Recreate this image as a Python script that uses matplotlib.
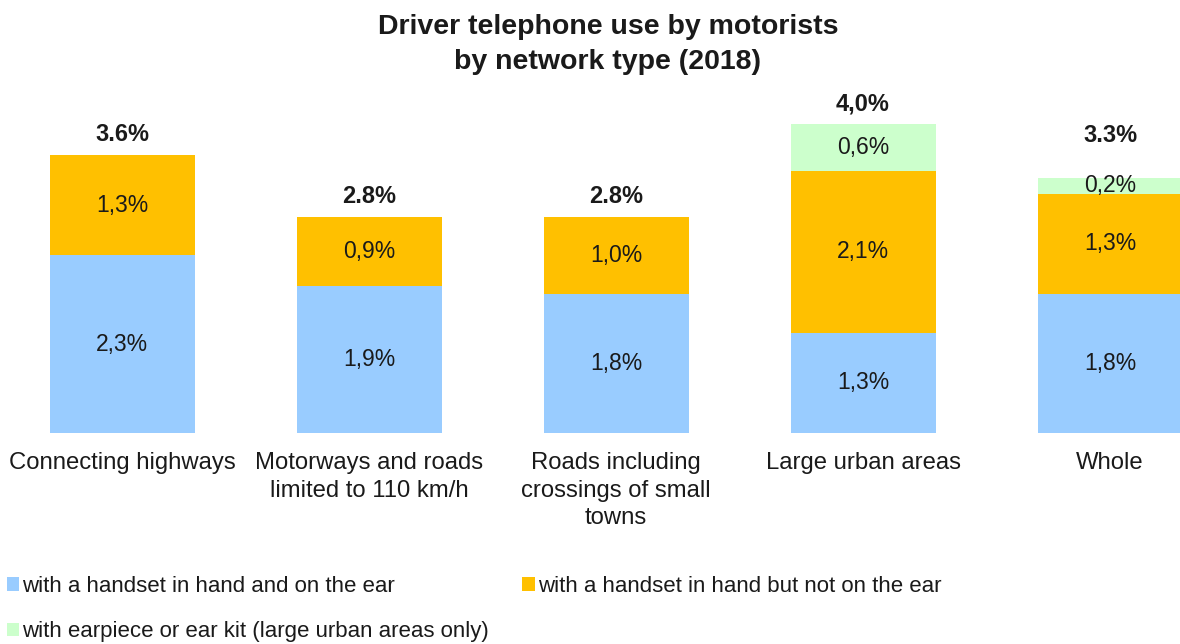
import matplotlib
matplotlib.use("Agg")
import matplotlib.pyplot as plt
from matplotlib.patches import Patch
import numpy as np

plt.rcParams['font.family'] = ['Liberation Sans', 'DejaVu Sans']

categories = ["Connecting highways", "Motorways and roads\nlimited to 110 km/h",
              "Roads including\ncrossings of small\ntowns", "Large urban areas", "Whole"]
series_names = ["with a handset in hand and on the ear",
                "with a handset in hand but not on the ear",
                "with earpiece or ear kit (large urban areas only)"]
on_ear = [2.3, 1.9, 1.8, 1.3, 1.8]
not_on_ear = [1.3, 0.9, 1.0, 2.1, 1.3]
earpiece = [0.0, 0.0, 0.0, 0.6, 0.2]
total_labels = ["3.6%", "2.8%", "2.8%", "4,0%", "3.3%"]
colors = ["#99CCFF", "#FFC000", "#CCFFCC"]
total_offsets = [10, 10, 10, 10, 26]

W, H = 1180, 644
fig = plt.figure(figsize=(W / 100, H / 100), dpi=100)
base_px = 433
top_px = 100
ax = fig.add_axes([0, (H - base_px) / H, 1, (base_px - top_px) / H])
px_per_unit = 77.2
ax.set_ylim(0, (base_px - top_px) / px_per_unit)
spacing = 247
ax.set_xlim(-122 / spacing, (W - 122) / spacing)

x = np.arange(len(categories))
width = 145 / spacing
series = [on_ear, not_on_ear, earpiece]
bottom = np.zeros(len(categories))
for vals, col in zip(series, colors):
    vals = np.array(vals)
    ax.bar(x, vals, width, bottom=bottom, color=col, edgecolor='none')
    for xi, b, v in zip(x, bottom, vals):
        if v > 0:
            ax.text(xi, b + v / 2, f"{v:.1f}%".replace('.', ','), ha='center', va='center',
                    fontsize=16.5, color='#1a1a1a')
    bottom = bottom + vals

for xi, tot, lab, off in zip(x, bottom, total_labels, total_offsets):
    ax.annotate(lab, (xi, tot), xytext=(0, off), textcoords='offset points',
                ha='center', va='baseline', fontsize=17, fontweight='bold', color='#1a1a1a')

ax.set_xticks(x)
ax.set_xticklabels(categories, fontsize=17.2, linespacing=1.32, color='#1a1a1a')
ax.tick_params(axis='x', length=0, pad=14)
ax.set_yticks([])
for s in ax.spines.values():
    s.set_visible(False)

fig.text(608 / W, 1 - 14 / H, "Driver telephone use by motorists\nby network type (2018)",
         ha='center', va='top', fontsize=20.5, fontweight='bold', linespacing=1.45, color='#1a1a1a')

handles = [Patch(facecolor=colors[0], label=series_names[0]),
           Patch(facecolor=colors[2], label=series_names[2]),
           Patch(facecolor=colors[1], label=series_names[1])]
fig.legend(handles=handles, ncol=2, loc='upper left', bbox_to_anchor=(0.0, 1 - 569 / H),
           frameon=False, fontsize=16, handlelength=0.55, handleheight=0.55,
           handletextpad=0.15, columnspacing=1.5, labelspacing=1.1, borderaxespad=0,
           borderpad=0.3, labelcolor='#1a1a1a')

fig.savefig("out.png", dpi=100)
